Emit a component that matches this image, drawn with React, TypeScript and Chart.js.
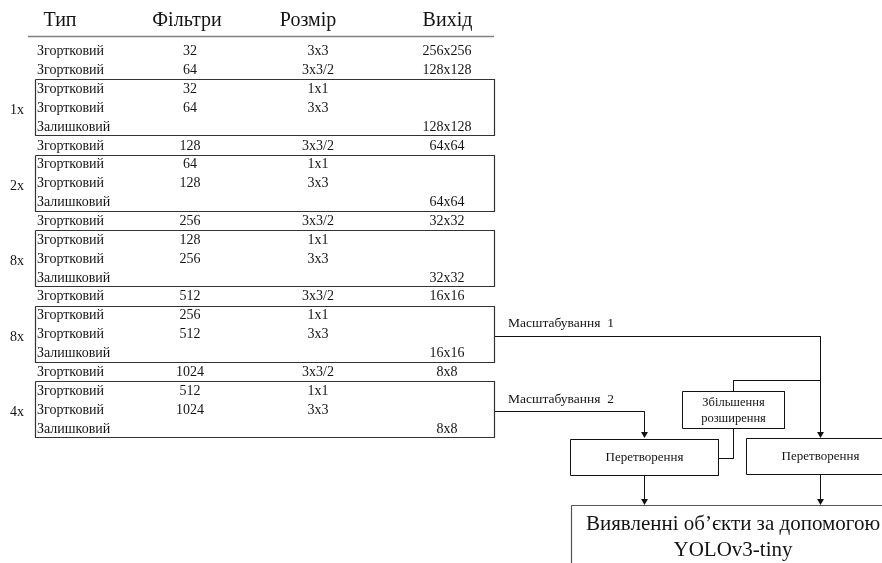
import React, { useEffect, useRef } from 'react';
import { Chart, registerables } from 'chart.js';

Chart.register(...registerables);

// ---------- DATA ----------
const headerLabels = ['Тип', 'Фільтри', 'Розмір', 'Вихід'];

const layerTypes = [
  'Згортковий', 'Згортковий',
  'Згортковий', 'Згортковий', 'Залишковий',
  'Згортковий',
  'Згортковий', 'Згортковий', 'Залишковий',
  'Згортковий',
  'Згортковий', 'Згортковий', 'Залишковий',
  'Згортковий',
  'Згортковий', 'Згортковий', 'Залишковий',
  'Згортковий',
  'Згортковий', 'Згортковий', 'Залишковий',
];
const layerFilters = [
  '32', '64',
  '32', '64', '',
  '128',
  '64', '128', '',
  '256',
  '128', '256', '',
  '512',
  '256', '512', '',
  '1024',
  '512', '1024', '',
];
const layerSizes = [
  '3x3', '3x3/2',
  '1x1', '3x3', '',
  '3x3/2',
  '1x1', '3x3', '',
  '3x3/2',
  '1x1', '3x3', '',
  '3x3/2',
  '1x1', '3x3', '',
  '3x3/2',
  '1x1', '3x3', '',
];
const layerOutputs = [
  '256x256', '128x128',
  '', '', '128x128',
  '64x64',
  '', '', '64x64',
  '32x32',
  '', '', '32x32',
  '16x16',
  '', '', '16x16',
  '8x8',
  '', '', '8x8',
];
const groupStarts = [2, 6, 10, 14, 18];
const groupEnds = [4, 8, 12, 16, 20];
const groupRepeats = ['1x', '2x', '8x', '8x', '4x'];

const scaleLabels = ['Масштабування  1', 'Масштабування  2'];
const transformLabel = 'Перетворення';
const upsampleLabel = ['Збільшення', 'розширення'];
const detectLabel = ['Виявленні об’єкти за допомогою', 'YOLOv3-tiny'];

// ---------- LAYOUT ----------
const W = 882;
const H = 563;
const FONT = '"Liberation Serif", "Times New Roman", serif';
const L = {
  rowY0: 51.5,
  rowStep: 18.87,
  typeX: 37,
  filterX: 190,
  sizeX: 318,
  outX: 447,
  headerY: 21,
  headerX: [60, 187, 308, 447.5],
  headerLineY: 36.5,
  headerLineX: [28, 494],
  boxLeft: 35.5,
  boxRight: 494.5,
  repeatX: 17,
  scaleTextX: 508,
  col1X: 644.5,
  col2X: 820.5,
  branchY: 380.5,
  upX: 733.5,
  upBox: [682.5, 784.5, 391.5, 428.5],
  leftBox: [570.5, 718.5, 439.5, 475.5],
  rightBox: [746.5, 894.5, 438.5, 474.5],
  arrowTopY: 438,
  arrowBottomY: 505,
  joinY: 458.5,
  detectBox: [571.5, 894.5, 505.5, 575],
};

const rowY = (i: number) => L.rowY0 + i * L.rowStep;
const boxTop = (g: number) => Math.round(rowY(groupStarts[g]) - 9.8) + 0.5;
const boxBottom = (g: number) => Math.round(rowY(groupEnds[g]) + 8.2) + 0.5;

function seg(points: number[][], color = '#111', width = 1) {
  return {
    type: 'line' as const,
    data: points.map(([x, y]) => ({ x, y })),
    showLine: true,
    borderColor: color,
    borderWidth: width,
    pointRadius: 0,
    fill: false,
    tension: 0,
    clip: false as any,
  };
}
function rect(b: number[], color = '#111', width = 1) {
  const [x0, x1, y0, y1] = b;
  return seg([[x0, y0], [x1, y0], [x1, y1], [x0, y1], [x0, y0]], color, width);
}

const textPlugin = {
  id: 'diagramText',
  afterDatasetsDraw(chart: any) {
    const { ctx } = chart;
    const xs = chart.scales.x;
    const ys = chart.scales.y;
    const px = (v: number) => xs.getPixelForValue(v);
    const py = (v: number) => ys.getPixelForValue(v);
    ctx.save();
    ctx.fillStyle = '#141414';
    ctx.textBaseline = 'middle';
    const txt = (s: string, x: number, y: number, size: number, align: CanvasTextAlign) => {
      if (!s) return;
      ctx.font = `${size}px ${FONT}`;
      ctx.textAlign = align;
      ctx.fillText(s, px(x), py(y));
    };
    headerLabels.forEach((h, i) => txt(h, L.headerX[i], L.headerY, 20, 'center'));
    layerTypes.forEach((t, i) => {
      const y = rowY(i);
      txt(t, L.typeX, y, 14, 'left');
      txt(layerFilters[i], L.filterX, y, 14, 'center');
      txt(layerSizes[i], L.sizeX, y, 14, 'center');
      txt(layerOutputs[i], L.outX, y, 14, 'center');
    });
    groupRepeats.forEach((r, g) => {
      txt(r, L.repeatX, (boxTop(g) + boxBottom(g)) / 2 + 3, 14, 'center');
    });
    txt(scaleLabels[0], L.scaleTextX, 323, 13.5, 'left');
    txt(scaleLabels[1], L.scaleTextX, 399.5, 13.5, 'left');
    txt(upsampleLabel[0], L.upX, 403, 12.5, 'center');
    txt(upsampleLabel[1], L.upX, 418.5, 12.5, 'center');
    txt(transformLabel, (L.leftBox[0] + L.leftBox[1]) / 2, 457.5, 13, 'center');
    txt(transformLabel, L.col2X, 457, 13, 'center');
    txt(detectLabel[0], 733, 524, 21, 'center');
    txt(detectLabel[1], 733, 550, 21, 'center');
    ctx.restore();
  },
};

export default function App() {
  const ref = useRef<HTMLCanvasElement>(null);
  useEffect(() => {
    document.body.style.margin = '0';
    const datasets: any[] = [];
    // header underline
    datasets.push(seg([[L.headerLineX[0], L.headerLineY], [L.headerLineX[1], L.headerLineY]], '#808080', 1.6));
    // repeat group boxes
    groupStarts.forEach((_, g) => {
      datasets.push(rect([L.boxLeft, L.boxRight, boxTop(g), boxBottom(g)], '#333', 1.2));
    });
    const s1Y = 336.5;
    const s2Y = 411.5;
    // scale 1 path
    datasets.push(seg([[L.boxRight, s1Y], [L.col2X, s1Y], [L.col2X, L.arrowTopY - 3]]));
    // scale 2 path
    datasets.push(seg([[L.boxRight, s2Y], [L.col1X, s2Y], [L.col1X, L.arrowTopY - 3]]));
    // branch to upsample
    datasets.push(seg([[L.col2X, L.branchY], [L.upX, L.branchY], [L.upX, L.upBox[2]]]));
    datasets.push(rect(L.upBox));
    datasets.push(seg([[L.upX, L.upBox[3]], [L.upX, L.joinY], [L.leftBox[1], L.joinY]]));
    datasets.push(rect(L.leftBox));
    datasets.push(rect(L.rightBox));
    datasets.push(seg([[L.col1X, L.leftBox[3]], [L.col1X, L.arrowBottomY - 3]]));
    datasets.push(seg([[L.col2X, L.rightBox[3]], [L.col2X, L.arrowBottomY - 3]]));
    datasets.push(rect(L.detectBox, '#555', 1.2));
    // arrow heads
    datasets.push({
      type: 'scatter',
      data: [
        { x: L.col2X, y: L.arrowTopY - 4 },
        { x: L.col1X, y: L.arrowTopY - 4 },
        { x: L.col1X, y: L.arrowBottomY - 4 },
        { x: L.col2X, y: L.arrowBottomY - 4 },
      ],
      pointStyle: 'triangle',
      rotation: 180,
      pointRadius: 4,
      backgroundColor: '#111',
      borderColor: '#111',
      borderWidth: 0,
      clip: false,
    });

    const chart = new Chart(ref.current as HTMLCanvasElement, {
      type: 'scatter',
      data: { datasets },
      options: {
        animation: false,
        responsive: false,
        devicePixelRatio: 1,
        events: [],
        layout: { padding: 0, autoPadding: false },
        scales: {
          x: { type: 'linear', min: 0, max: W, display: false },
          y: { type: 'linear', min: 0, max: H, reverse: true, display: false },
        },
        plugins: { legend: { display: false }, tooltip: { enabled: false } },
      },
      plugins: [textPlugin],
    } as any);
    return () => chart.destroy();
  }, []);
  return (
    <div style={{ width: W, height: H, background: '#fff' }}>
      <canvas ref={ref} width={W} height={H} style={{ display: 'block', width: W, height: H }} />
    </div>
  );
}
